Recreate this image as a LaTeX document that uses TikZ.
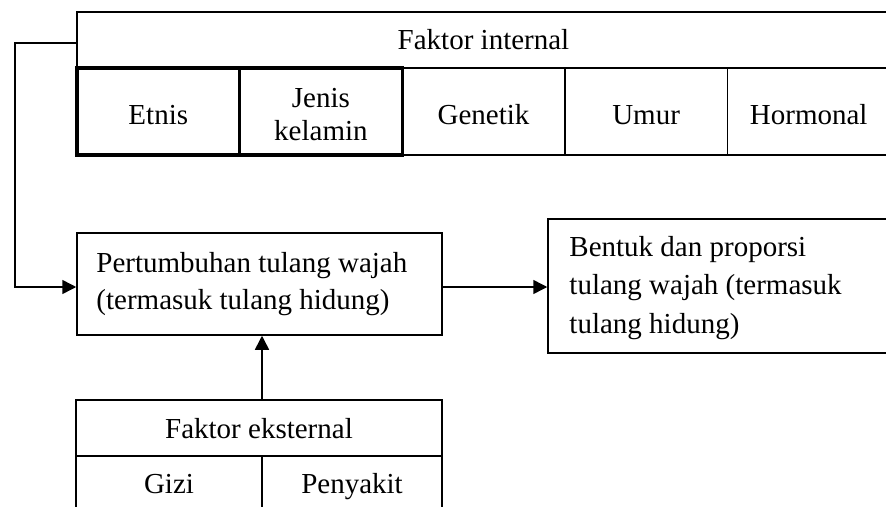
\documentclass[tikz,border=0pt]{standalone}
\usepackage{fontspec}
\setmainfont{Liberation Serif}
\usetikzlibrary{arrows.meta,calc}
\begin{document}
\begin{tikzpicture}[x=1pt,y=-1pt,
  thinline/.style={line width=1.5pt},
  box/.style={draw, thinline, rectangle, inner sep=0pt, align=center, font=\fontsize{29}{37}\selectfont},
  cell/.style={box, minimum width=162.6pt, minimum height=87pt, text height=25pt, text depth=0pt},
  thickcell/.style={cell, line width=3.2pt},
  textlabel/.style={inner sep=0pt, align=left, anchor=west},
  conn/.style={thinline, -{Triangle[length=14pt,width=14pt]}}
]
\path[use as bounding box, clip] (0,0) rectangle (886,506);
\fill[white] (0,0) rectangle (886,506);

% Faktor internal table
\node[box, minimum width=813pt, minimum height=56pt, text height=18pt, text depth=0pt] (hdr) at (483.5,40) {Faktor internal};
\node[cell] (gen) at (483.5,111.5) {Genetik};
\node[cell] (umur) at (646.1,111.5) {Umur};
\node[cell] (horm) at (808.7,111.5) {Hormonal};
\node[thickcell] (etnis) at (158.3,111.5) {Etnis};
\node[thickcell, font=\fontsize{29}{33}\selectfont, text height=57pt, text depth=0pt] (jenis) at (320.9,111.5) {Jenis\\kelamin};

% Pertumbuhan box
\node[box, minimum width=365pt, minimum height=102pt] (pert) at (259.5,284) {};
\node[textlabel, font=\fontsize{29}{36.5}\selectfont] (pertt) at ($(pert.west)+(20,0)$) {Pertumbuhan tulang wajah\\(termasuk tulang hidung)};

% Bentuk box
\node[box, minimum width=342pt, minimum height=134pt] (bentuk) at (719,286) {};
\node[textlabel, font=\fontsize{29}{38.5}\selectfont] (bentukt) at ($(bentuk.west)+(22,2)$) {Bentuk dan proporsi\\tulang wajah (termasuk\\tulang hidung)};

% Faktor eksternal table
\node[box, minimum width=366pt, minimum height=56pt, text height=20pt, text depth=0pt] (ext) at (259,428) {Faktor eksternal};
\node[box, minimum width=186pt, minimum height=56pt, text height=18pt, text depth=0pt] (gizi) at (169,484) {Gizi};
\node[box, minimum width=180pt, minimum height=56pt, text height=18pt, text depth=0pt] (peny) at (352,484) {Penyakit};

% connectors
\coordinate (fbx) at (15,0);
\draw[conn] ([yshift=-3pt]hdr.west) -- ([yshift=-3pt]hdr.west -| fbx) |- ([yshift=-3pt]pert.west);
\draw[conn] ([yshift=-3pt]pert.east) -- ([yshift=-3pt]pert.east -| bentuk.west);
\draw[conn] ([xshift=3pt]ext.north) -- ([xshift=3pt]ext.north |- pert.south);
\end{tikzpicture}
\end{document}
